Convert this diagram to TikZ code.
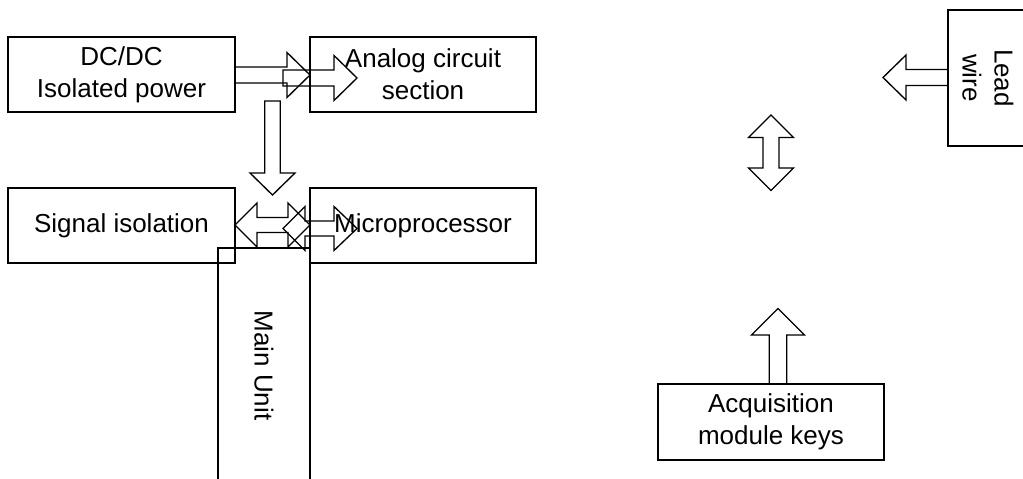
\documentclass[tikz,border=0pt]{standalone}
\usepackage{fontspec}
\setmainfont{Liberation Sans}
\begin{document}
\begin{tikzpicture}[x=0.75pt,y=-0.75pt,
  box/.style={draw, line width=1pt, inner sep=0pt, outer sep=0pt, align=center,
    font=\fontsize{19.5pt}{24pt}\selectfont},
  blk/.style={draw, line width=1pt, line join=miter}]
\useasboundingbox (0,0) rectangle (1023,478);
\clip (0,0) rectangle (1023,478);

% boxes
\node[box, minimum width=170.25pt, minimum height=56.25pt] (dc) at (121.5,74.5) {DC/DC\\Isolated power};
\node[box, minimum width=169.5pt, minimum height=56.25pt] (analog) at (423,74.5) {Analog circuit\\section};
\node[box, minimum width=170.25pt, minimum height=56.25pt] (sig) at (121.5,225.5) {Signal isolation};
\node[box, minimum width=169.5pt, minimum height=56.25pt] (micro) at (423,225.5) {Microprocessor};
\node[box, rotate=-90, minimum width=176.25pt, minimum height=69pt] (main) at (264,365.5) {Main Unit};
\node[box, rotate=-90, minimum width=102pt, minimum height=60pt] (lead) at (988,78) {Lead\\wire};
\node[box, minimum width=169.5pt, minimum height=57pt] (acq) at (771,422) {Acquisition\\module keys};

% block arrows
\draw[blk] (235,67)--(287,67)--(287,52.5)--(310,75)--(287,97.5)--(287,83)--(235,83)--cycle;
\draw[blk] (283,70)--(334,70)--(334,55.5)--(357,78)--(334,100.5)--(334,86)--(283,86)--cycle;
\draw[blk] (264.8,101)--(280.2,101)--(280.2,173)--(295,173)--(272.5,195)--(250,173)--(264.8,173)--cycle;
\draw[blk] (235,225)--(257,203)--(257,217.5)--(288,217.5)--(288,203)--(310,225)--(288,247)--(288,232.5)--(257,232.5)--(257,247)--cycle;
\draw[blk] (283,228.5)--(305,206.5)--(305,221)--(334,221)--(334,206.5)--(357,228.5)--(334,250.5)--(334,236)--(305,236)--(305,250.5)--cycle;
\draw[blk] (883,77.5)--(906,55)--(906,69.5)--(948,69.5)--(948,85.5)--(906,85.5)--(906,100)--cycle;
\draw[blk] (771,115)--(793.5,137.5)--(779,137.5)--(779,168)--(793.5,168)--(771,190.5)--(748.5,168)--(763,168)--(763,137.5)--(748.5,137.5)--cycle;
\draw[blk] (778,308.5)--(804.5,335)--(786.7,335)--(786.7,384)--(769.3,384)--(769.3,335)--(751.5,335)--cycle;
\end{tikzpicture}
\end{document}
